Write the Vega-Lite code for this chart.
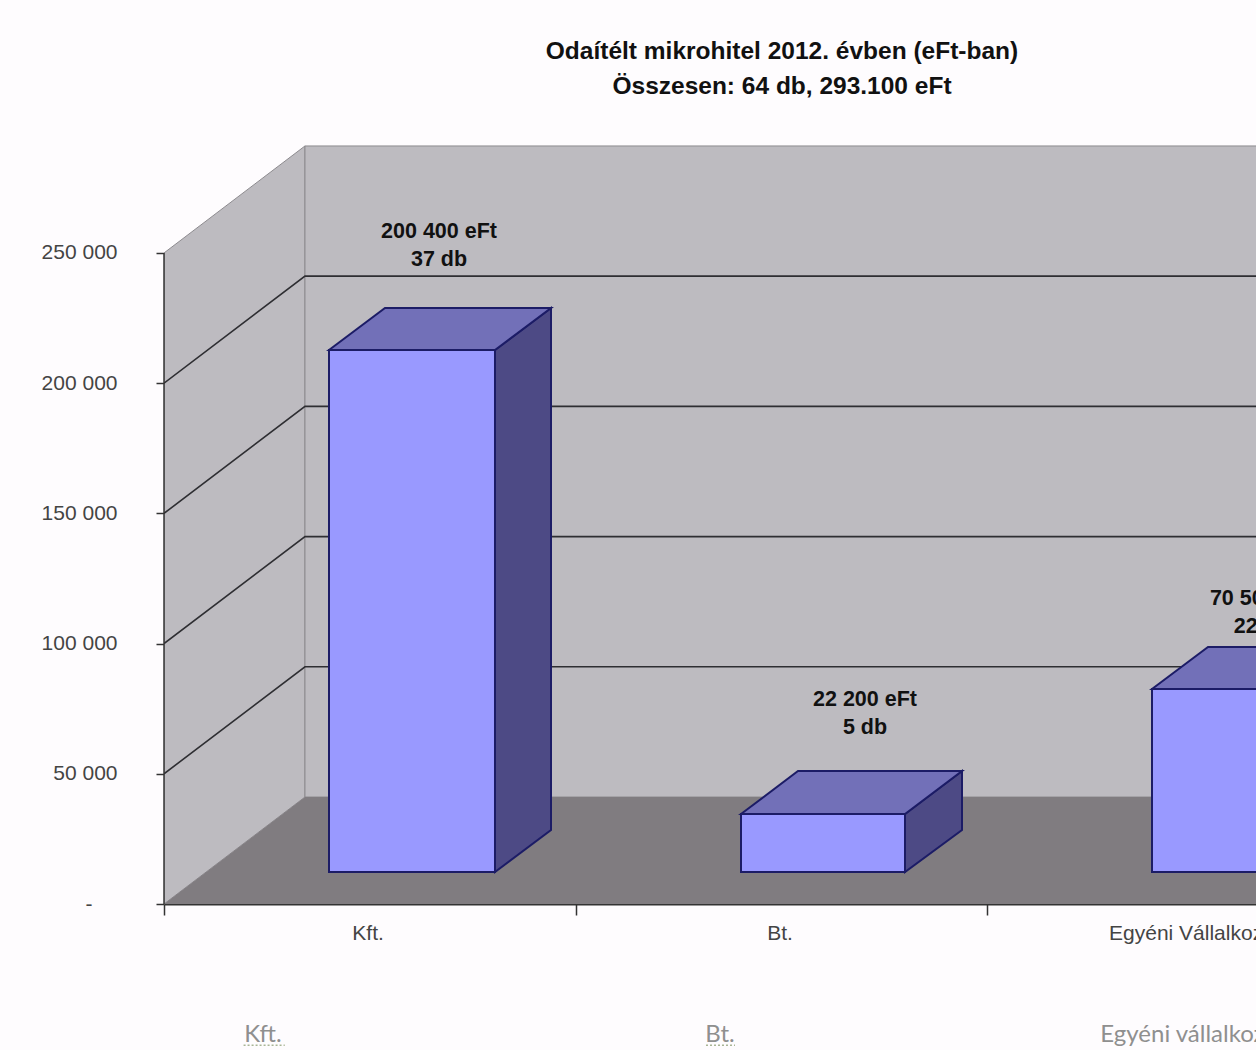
{
"$schema":"https://vega.github.io/schema/vega-lite/v6.json",
"width":1092,"height":904,
"autosize":"none",
"padding":{"left":164,"top":0,"right":0,"bottom":146},
"background":"#fefcfe",
"view":{"stroke":null},
"title":{"text":["Odaítélt mikrohitel 2012. évben (eFt-ban)","Összesen: 64 db, 293.100 eFt"],"anchor":"middle","frame":"group","baseline":"top","dx":72,"dy":99,"offset":0,"font":"Liberation Sans","fontSize":24.5,"fontWeight":"bold","lineHeight":35,"color":"#111111"},
"datasets":{
"faces":[
{"part":"wall","shape":"left","x":0,"y":250000,"y2":0},
{"part":"wall","shape":"left","x":0.3426,"y":291088,"y2":41088},
{"part":"wall","shape":"back","x":0.3426,"y":291088,"y2":41088},
{"part":"wall","shape":"back","x":2.7,"y":291088,"y2":41088},
{"part":"floor","shape":"floor","x":0,"y":0,"y2":0},
{"part":"floor","shape":"floor","x":0.3426,"y":41088,"y2":0},
{"part":"floor","shape":"floor","x":2.7,"y":41088,"y2":0},
{"part":"side","shape":"Kft.","x":0.80437,"y":212736,"y2":12288},
{"part":"side","shape":"Kft.","x":0.94046,"y":228864,"y2":28416},
{"part":"top","shape":"Kft.","x":0.40097,"y":212736,"y2":212736},
{"part":"top","shape":"Kft.","x":0.53706,"y":228864,"y2":212736},
{"part":"top","shape":"Kft.","x":0.80437,"y":228864,"y2":212736},
{"part":"top","shape":"Kft.","x":0.94046,"y":228864,"y2":228864},
{"part":"front","shape":"Kft.","x":0.40097,"y":212736,"y2":12288},
{"part":"front","shape":"Kft.","x":0.80437,"y":212736,"y2":12288},
{"part":"side","shape":"Bt.","x":1.80073,"y":34560,"y2":12288},
{"part":"side","shape":"Bt.","x":1.93925,"y":51072,"y2":28416},
{"part":"top","shape":"Bt.","x":1.40219,"y":34560,"y2":34560},
{"part":"top","shape":"Bt.","x":1.5407,"y":51072,"y2":34560},
{"part":"top","shape":"Bt.","x":1.80073,"y":51072,"y2":34560},
{"part":"top","shape":"Bt.","x":1.93925,"y":51072,"y2":51072},
{"part":"front","shape":"Bt.","x":1.40219,"y":34560,"y2":12288},
{"part":"front","shape":"Bt.","x":1.80073,"y":34560,"y2":12288},
{"part":"top","shape":"Egyéni","x":2.40097,"y":82560,"y2":82560},
{"part":"top","shape":"Egyéni","x":2.5371,"y":98688,"y2":82560},
{"part":"top","shape":"Egyéni","x":2.80194,"y":98688,"y2":82560},
{"part":"front","shape":"Egyéni","x":2.40097,"y":82560,"y2":12288},
{"part":"front","shape":"Egyéni","x":2.80194,"y":82560,"y2":12288}
],
"grid":[
{"level":50000,"x":0,"y":50000},{"level":50000,"x":0.3426,"y":91088},{"level":50000,"x":2.7,"y":91088},
{"level":100000,"x":0,"y":100000},{"level":100000,"x":0.3426,"y":141088},{"level":100000,"x":2.7,"y":141088},
{"level":150000,"x":0,"y":150000},{"level":150000,"x":0.3426,"y":191088},{"level":150000,"x":2.7,"y":191088},
{"level":200000,"x":0,"y":200000},{"level":200000,"x":0.3426,"y":241088},{"level":200000,"x":2.7,"y":241088}
],
"yline":[{"x":0,"y":0},{"x":0,"y":250000}],
"squiggle":[
{"mark":"Kft.","x":0.1934,"y":-54200},{"mark":"Kft.","x":0.2935,"y":-54200},
{"mark":"Bt.","x":1.3171,"y":-54200},{"mark":"Bt.","x":1.3876,"y":-54200}
],
"values":[
{"label":"200 400 eFt\n37 db","x":0.6683,"y":258056},
{"label":"22 200 eFt\n5 db","x":1.7035,"y":78344},
{"label":"70 500 eFt\n22 db","x":2.668,"y":117128}
],
"cats":[
{"label":"Kft.","x":0.496,"y":-11500},
{"label":"Bt.","x":1.497,"y":-11500},
{"label":"Egyéni Vállalkozó","x":2.498,"y":-11500}
],
"cats2":[
{"label":"Kft.","x":0.2406,"y":-50300},
{"label":"Bt.","x":1.351,"y":-50300},
{"label":"Egyéni vállalkozó","x":2.491,"y":-50300}
]
},
"encoding":{
"x":{"field":"x","type":"quantitative","scale":{"domain":[0,2.6537],"nice":false,"zero":false},
"axis":{"values":[0,1,2],"labels":false,"title":null,"grid":false,"tickSize":11,"tickColor":"#333333","domainColor":"#333333","domainWidth":2,"tickWidth":1.5}},
"y":{"field":"y","type":"quantitative","scale":{"domain":[0,347136],"nice":false,"zero":false},
"axis":{"values":[0,50000,100000,150000,200000,250000],"labelExpr":"datum.value==0?'-':replace(format(datum.value,','),',',' ')","title":null,"grid":false,"domain":false,"tickSize":8,"tickColor":"#333333","tickWidth":1.5,"labelPadding":{"condition":{"test":"datum.value==0","value":64},"value":39},"labelFont":"Liberation Sans","labelFontSize":21,"labelColor":"#444444"}}
},
"layer":[
{"data":{"name":"faces"},"transform":[{"filter":"datum.part=='wall'"}],
"mark":{"type":"area","stroke":"#8c8a8e","strokeWidth":1,"clip":true},
"encoding":{"y":{"field":"y","type":"quantitative","stack":null},"y2":{"field":"y2"},"detail":{"field":"shape"},
"color":{"field":"part","type":"nominal","legend":null,"scale":{"domain":["wall","floor","side","top","front"],"range":["#bdbbc0","#807c80","#4d4a85","#7270b8","#9999ff"]}}}},
{"data":{"name":"faces"},"transform":[{"filter":"datum.part=='floor'"}],
"mark":{"type":"area","clip":true},
"encoding":{"y":{"field":"y","type":"quantitative","stack":null},"y2":{"field":"y2"},"detail":{"field":"shape"},
"color":{"field":"part","type":"nominal","legend":null}}},
{"data":{"name":"grid"},
"mark":{"type":"line","color":"#2e2e32","strokeWidth":1.6,"clip":true},
"encoding":{"detail":{"field":"level"}}},
{"data":{"name":"yline"},
"mark":{"type":"line","color":"#333333","strokeWidth":1.5},
"encoding":{}},
{"data":{"name":"faces"},"transform":[{"filter":"datum.part=='side'"}],
"mark":{"type":"area","stroke":"#1c1c66","strokeWidth":2,"clip":true},
"encoding":{"y":{"field":"y","type":"quantitative","stack":null},"y2":{"field":"y2"},"detail":{"field":"shape"},
"color":{"field":"part","type":"nominal","legend":null}}},
{"data":{"name":"faces"},"transform":[{"filter":"datum.part=='top'"}],
"mark":{"type":"area","stroke":"#1c1c66","strokeWidth":2,"clip":true},
"encoding":{"y":{"field":"y","type":"quantitative","stack":null},"y2":{"field":"y2"},"detail":{"field":"shape"},
"color":{"field":"part","type":"nominal","legend":null}}},
{"data":{"name":"faces"},"transform":[{"filter":"datum.part=='front'"}],
"mark":{"type":"area","stroke":"#1c1c66","strokeWidth":2,"clip":true},
"encoding":{"y":{"field":"y","type":"quantitative","stack":null},"y2":{"field":"y2"},"detail":{"field":"shape"},
"color":{"field":"part","type":"nominal","legend":null}}},
{"data":{"name":"values"},
"mark":{"type":"text","font":"Liberation Sans","fontSize":21.5,"fontWeight":"bold","color":"#111111","lineBreak":"\n","lineHeight":28,"align":"center","baseline":"middle"},
"encoding":{"text":{"field":"label"}}},
{"data":{"name":"cats"},
"mark":{"type":"text","font":"Liberation Sans","fontSize":21,"color":"#444444","align":"center","baseline":"middle"},
"encoding":{"text":{"field":"label"}}},
{"data":{"name":"cats2"},
"mark":{"type":"text","font":"Lato","fontSize":24,"color":"#8f8f8f","align":"center","baseline":"middle"},
"encoding":{"text":{"field":"label"}}},
{"data":{"name":"squiggle"},
"mark":{"type":"line","color":"#a9b596","strokeWidth":1.5,"strokeDash":[2,2]},
"encoding":{"detail":{"field":"mark"}}}
]
}
